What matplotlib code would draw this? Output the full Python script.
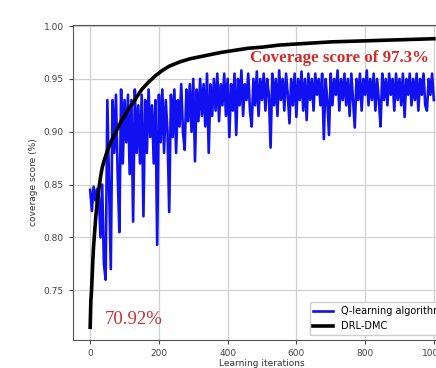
import numpy as np
import matplotlib
matplotlib.use("Agg")
import matplotlib.pyplot as plt

# Q-learning algorithm, one value every 5 iterations
q_iters = list(range(0, 1001, 5))
q_score = [
    0.845, 0.825, 0.848, 0.835, 0.846, 0.84, 0.80, 0.85, 0.775, 0.76,
    0.93, 0.85, 0.77, 0.93, 0.88, 0.935, 0.86, 0.805, 0.94, 0.87,
    0.93, 0.89, 0.935, 0.86, 0.93, 0.815, 0.94, 0.88, 0.925, 0.87,
    0.935, 0.82, 0.93, 0.88, 0.94, 0.895, 0.925, 0.87, 0.93, 0.793,
    0.935, 0.89, 0.94, 0.88, 0.93, 0.90, 0.824, 0.935, 0.895, 0.94,
    0.88, 0.93, 0.905, 0.945, 0.90, 0.883, 0.94, 0.91, 0.945, 0.90,
    0.95, 0.872, 0.94, 0.91, 0.95, 0.915, 0.945, 0.905, 0.955, 0.88,
    0.945, 0.915, 0.95, 0.92, 0.955, 0.91, 0.945, 0.925, 0.955, 0.915,
    0.95, 0.895, 0.945, 0.92, 0.955, 0.897, 0.95, 0.925, 0.958, 0.915,
    0.945, 0.93, 0.955, 0.92, 0.905, 0.95, 0.925, 0.957, 0.915, 0.95,
    0.93, 0.955, 0.92, 0.95, 0.935, 0.885, 0.955, 0.925, 0.95, 0.915,
    0.958, 0.93, 0.95, 0.92, 0.955, 0.935, 0.908, 0.95, 0.925, 0.955,
    0.914, 0.95, 0.93, 0.957, 0.92, 0.95, 0.911, 0.955, 0.93, 0.95,
    0.92, 0.955, 0.935, 0.95, 0.925, 0.955, 0.893, 0.95, 0.93, 0.897,
    0.955, 0.925, 0.95, 0.935, 0.958, 0.92, 0.95, 0.93, 0.955, 0.925,
    0.95, 0.915, 0.955, 0.93, 0.904, 0.95, 0.93, 0.955, 0.92, 0.95,
    0.935, 0.958, 0.925, 0.95, 0.93, 0.955, 0.92, 0.95, 0.93, 0.905,
    0.955, 0.93, 0.95, 0.925, 0.955, 0.935, 0.95, 0.92, 0.955, 0.93,
    0.95, 0.925, 0.955, 0.914, 0.95, 0.935, 0.955, 0.925, 0.95, 0.93,
    0.955, 0.92, 0.95, 0.935, 0.955, 0.925, 0.92, 0.95, 0.935, 0.955,
    0.93,
]

# DRL-DMC curve
drl_iters = [0, 2, 4, 6, 8, 10, 13, 16, 20, 25, 30, 35, 40, 50, 60, 70, 80, 90,
             100, 115, 130, 150, 170, 190, 210, 230, 260, 290, 320, 350, 380,
             420, 460, 500, 550, 600, 650, 700, 750, 800, 850, 900, 950, 1000]
drl_score = [0.715, 0.74, 0.75, 0.765, 0.78, 0.792, 0.805, 0.818, 0.832, 0.845,
             0.857, 0.866, 0.872, 0.882, 0.89, 0.897, 0.903, 0.91, 0.915, 0.923,
             0.93, 0.94, 0.947, 0.953, 0.958, 0.962, 0.966, 0.969, 0.971, 0.973,
             0.975, 0.977, 0.979, 0.98, 0.982, 0.983, 0.984, 0.985, 0.9855,
             0.986, 0.9865, 0.987, 0.9875, 0.988]

fig = plt.figure(figsize=(4.36, 3.68), dpi=100)
# axes run past the right edge, like the cropped reference
ax = fig.add_axes([0.1674, 0.0761, 0.867, 0.856])

ax.plot(q_iters, q_score, color="#1010f0", lw=1.9, label="Q-learning algorithm")
ax.plot(drl_iters, drl_score, color="black", lw=2.6, label="DRL-DMC")

ax.set_xlim(-50, 1050)
ax.set_ylim(0.703, 1.001)
ax.set_xticks([0, 200, 400, 600, 800, 1000])
ax.set_yticks([0.75, 0.80, 0.85, 0.90, 0.95, 1.00])
ax.grid(True, color="#d0d0d0", lw=0.9)
ax.set_axisbelow(True)
for s in ax.spines.values():
    s.set_color("#555555")
ax.tick_params(labelsize=6.5, colors="#444444", length=3)

ax.set_xlabel("Learning iterations", fontsize=6.5, color="#333333", labelpad=1)
ax.set_ylabel("coverage score (%)", fontsize=6.5, color="#333333")

ax.text(465, 0.970, "Coverage score of 97.3%", color="#d42a2a", fontsize=12.2,
        fontweight="bold", family="Liberation Serif", va="center", ha="left")
ax.text(43, 0.722, "70.92%", color="#c83030", fontsize=13.5,
        family="Liberation Serif", va="center", ha="left")

ax.legend(loc="lower right", fontsize=7, framealpha=1, edgecolor="#cccccc",
          handlelength=2.0, borderaxespad=0.5)

fig.savefig("out.png", dpi=100)
